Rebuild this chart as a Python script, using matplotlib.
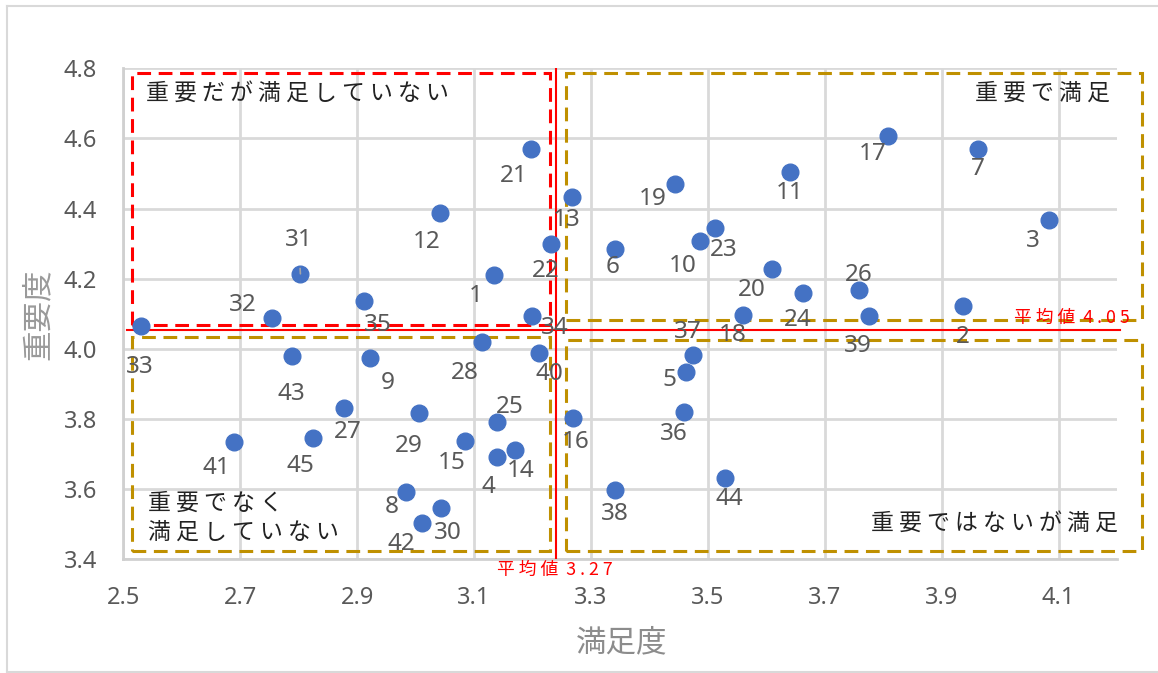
import matplotlib
matplotlib.use("Agg")
import matplotlib.pyplot as plt
from matplotlib.patches import Rectangle
from matplotlib.lines import Line2D

# Item numbers, satisfaction (x) and importance (y)
items = list(range(1, 46))
satisfaction = [3.135, 3.936, 4.083, 3.140, 3.462, 3.341, 3.963, 2.983, 2.922, 3.486,
                3.641, 3.041, 3.267, 3.170, 3.085, 3.269, 3.809, 3.560, 3.444, 3.610,
                3.197, 3.231, 3.513, 3.662, 3.140, 3.758, 2.877, 3.113, 3.006, 3.044,
                2.803, 2.755, 2.530, 3.199, 2.912, 3.459, 3.474, 3.342, 3.776, 3.211,
                2.690, 3.011, 2.788, 3.530, 2.825]
importance = [4.210, 4.122, 4.368, 3.691, 3.935, 4.286, 4.570, 3.593, 3.973, 4.309,
              4.505, 4.388, 4.434, 3.712, 3.737, 3.804, 4.608, 4.097, 4.469, 4.227,
              4.569, 4.298, 4.346, 4.159, 3.791, 4.168, 3.832, 4.019, 3.816, 3.545,
              4.214, 4.089, 4.065, 4.094, 4.137, 3.821, 3.983, 3.598, 4.094, 3.989,
              3.735, 3.504, 3.981, 3.631, 3.745]

x_ticks = [2.5, 2.7, 2.9, 3.1, 3.3, 3.5, 3.7, 3.9, 4.1]
y_ticks = [3.4, 3.6, 3.8, 4.0, 4.2, 4.4, 4.6, 4.8]

# mean lines (drawn position) and their captions
mean_x_line = 3.24
mean_y_line = 4.055
mean_x_text = "平 均 値  3 . 2 7"
mean_y_text = "平 均 値  4 . 0 5"

# label offsets in pixels (dx, dy up) relative to the point
label_offsets = {
    1: (-19, -21), 2: (0, -31), 3: (-16, -21), 4: (-9, -30), 5: (-16, -8),
    6: (-2, -18), 7: (-1, -20), 8: (-14, -15), 9: (18, -25), 10: (-17, -25),
    11: (-1, -21), 12: (-13, -29), 13: (-5, -23), 14: (6, -21), 15: (-14, -22),
    16: (3, -24), 17: (-16, -18), 18: (-10, -20), 19: (-22, -15), 20: (-20, -21),
    21: (-17, -27), 22: (-5, -27), 23: (8, -22), 24: (-5, -27), 25: (12, 15),
    26: (0, 15), 27: (4, -24), 28: (-17, -31), 29: (-10, -33), 30: (7, -25),
    31: (-2, 34), 32: (-30, 13), 33: (-1, -41), 34: (23, -12), 35: (14, -24),
    36: (-10, -22), 37: (-5, 23), 38: (-1, -24), 39: (-11, -30), 40: (11, -21),
    41: (-18, -26), 42: (-21, -21), 43: (0, -38), 44: (4, -21), 45: (-13, -28),
}

W, H = 1158, 673
fig = plt.figure(figsize=(W / 100, H / 100), dpi=100)
ax = fig.add_axes([123.3 / W, 1 - 559.3 / H, (1117 - 123.3) / W, (559.3 - 68.3) / H])

cjk = ["Noto Sans CJK JP", "DejaVu Sans"]
num_font = "Noto Sans"

# outer chart border
for xs, ys in [([7, 7], [6, 672]), ([7, W], [6, 6]), ([7, W], [672, 672])]:
    fig.add_artist(Line2D([x / W for x in xs], [1 - y / H for y in ys],
                          color="#d9d9d9", lw=1.5))

ax.set_xlim(2.5, 4.2)
ax.set_ylim(3.4, 4.8)
ax.set_xticks(x_ticks)
ax.set_yticks(y_ticks)
ax.set_xticklabels([f"{v:.1f}" for v in x_ticks], fontfamily=num_font, fontsize=17, color="#595959")
ax.set_yticklabels([f"{v:.1f}" for v in y_ticks], fontfamily=num_font, fontsize=17, color="#595959")
ax.tick_params(length=0)
ax.tick_params(axis="x", pad=19)
ax.tick_params(axis="y", pad=19)
ax.grid(True, color="#d9d9d9", lw=2)
ax.set_axisbelow(True)
for s in ["top", "right"]:
    ax.spines[s].set_visible(False)
for s in ["left", "bottom"]:
    ax.spines[s].set_color("#d0d0d0")
    ax.spines[s].set_linewidth(2)

# quadrant boxes
boxes = [
    ((2.515, 4.068), 3.2306 - 2.515, 4.7858 - 4.068, "#ff0000"),
    ((3.2568, 4.082), 4.2426 - 3.2568, 4.7858 - 4.082, "#bf9000"),
    ((2.515, 3.425), 3.2306 - 2.515, 4.033 - 3.425, "#bf9000"),
    ((3.2568, 3.425), 4.2426 - 3.2568, 4.025 - 3.425, "#bf9000"),
]
for xy, w, h, c in boxes:
    ax.add_patch(Rectangle(xy, w, h, fill=False, edgecolor=c, lw=2.2,
                           linestyle=(0, (4.5, 2.5)), clip_on=False, zorder=2))

# mean lines
ax.axvline(mean_x_line, color="#ff0000", lw=1.5, zorder=3)
ax.plot([2.5065, 4.2046], [mean_y_line, mean_y_line], color="#ff0000", lw=1.5,
        clip_on=False, zorder=3)

# points
ax.plot(satisfaction, importance, "o", color="#4472c4", markersize=12, zorder=4)
for i, x, y in zip(items, satisfaction, importance):
    dx, dy = label_offsets[i]
    props = None
    if i == 31:
        props = dict(arrowstyle="-", color="#a6a6a6", lw=1.2, shrinkA=10, shrinkB=7)
    ax.annotate(str(i), (x, y), xytext=(dx, dy), textcoords="offset pixels",
                ha="center", va="center", fontsize=17.5, fontfamily=num_font,
                color="#595959", zorder=5, arrowprops=props)

# quadrant captions
def fig_text(px, py, s, **kw):
    fig.text(px / W, 1 - py / H, s, **kw)

cap = dict(fontsize=16.5, family=cjk, color="#222222", va="center")
fig_text(146, 93, "重 要 だ が 満 足 し て い な い", ha="left", **cap)
fig_text(1110, 93, "重 要 で 満 足", ha="right", **cap)
fig_text(148, 503, "重 要 で な く", ha="left", **cap)
fig_text(148, 532, "満 足 し て い な い", ha="left", **cap)
fig_text(1118, 523, "重 要 で は な い が 満 足", ha="right", **cap)

fig_text(1072, 318, mean_y_text, ha="center", va="center", fontsize=12.8, family=cjk, color="#ff0000")
fig_text(555, 570, mean_x_text, ha="center", va="center", fontsize=12.8, family=cjk, color="#ff0000")

# axis titles
fig_text(622, 643, "満足度", ha="center", va="center", fontsize=22, family=cjk, color="#8c8c8c")
fig_text(38, 314, "重要度", ha="center", va="center", fontsize=22, family=cjk, color="#9a9a9a", rotation=90)

fig.savefig("out.png", dpi=100)
